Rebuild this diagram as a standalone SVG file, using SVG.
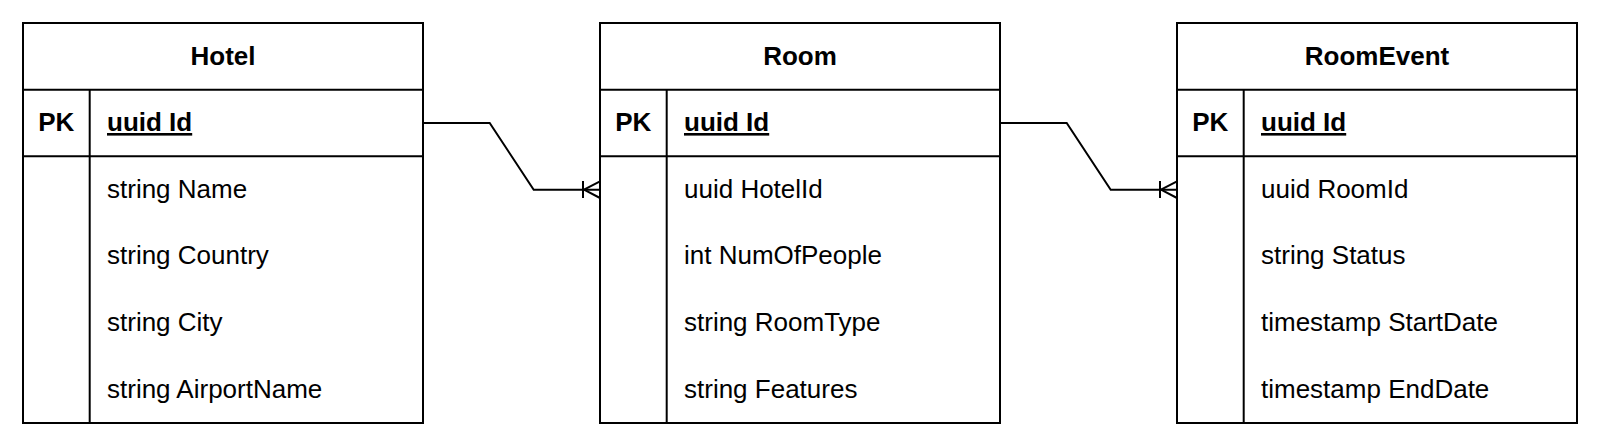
<svg xmlns="http://www.w3.org/2000/svg" width="1600" height="446" viewBox="0 0 1600 446">
<style>
.box{fill:#fff;stroke:#000;stroke-width:2}
.ln{stroke:#000;stroke-width:2;fill:none}
.t{font-family:"Liberation Sans",Arial,Helvetica,sans-serif;font-size:26px;fill:#000}
.h{font-weight:bold;text-anchor:middle}
.u{font-weight:bold;text-decoration:underline}
.pk{font-weight:bold;text-anchor:middle}
</style>
<defs>
<g id="frame">
<rect class="box" x="0" y="0" width="400" height="400"/>
<line class="ln" x1="0" y1="66.7" x2="400" y2="66.7"/>
<line class="ln" x1="0" y1="133.3" x2="400" y2="133.3"/>
<line class="ln" x1="66.7" y1="66.7" x2="66.7" y2="400"/>
</g>
</defs>
<rect width="1600" height="446" fill="#fff"/>
<g id="Hotel" transform="translate(23,23)">
<use href="#frame"/>
<text class="t h" x="200" y="41.5">Hotel</text>
<text class="t pk" x="33.3" y="108">PK</text>
<text class="t u" x="84" y="108">uuid Id</text>
<text class="t" x="84" y="174.7">string Name</text>
<text class="t" x="84" y="241.3">string Country</text>
<text class="t" x="84" y="308">string City</text>
<text class="t" x="84" y="374.7">string AirportName</text>
</g>
<g id="Room" transform="translate(600,23)">
<use href="#frame"/>
<text class="t h" x="200" y="41.5">Room</text>
<text class="t pk" x="33.3" y="108">PK</text>
<text class="t u" x="84" y="108">uuid Id</text>
<text class="t" x="84" y="174.7">uuid HotelId</text>
<text class="t" x="84" y="241.3">int NumOfPeople</text>
<text class="t" x="84" y="308">string RoomType</text>
<text class="t" x="84" y="374.7">string Features</text>
</g>
<g id="RoomEvent" transform="translate(1177,23)">
<use href="#frame"/>
<text class="t h" x="200" y="41.5">RoomEvent</text>
<text class="t pk" x="33.3" y="108">PK</text>
<text class="t u" x="84" y="108">uuid Id</text>
<text class="t" x="84" y="174.7">uuid RoomId</text>
<text class="t" x="84" y="241.3">string Status</text>
<text class="t" x="84" y="308">timestamp StartDate</text>
<text class="t" x="84" y="374.7">timestamp EndDate</text>
</g>
<g id="connectors">
<g id="Hotel-Room">
<path class="ln" d="M423,123 H489.7 L533.7,189.7 H600"/>
<path class="ln" d="M583,181 V198 M584,189.7 L600,181.3 M584,189.7 L600,198"/>
</g>
<g id="Room-RoomEvent" transform="translate(577,0)">
<path class="ln" d="M423,123 H489.7 L533.7,189.7 H600"/>
<path class="ln" d="M583,181 V198 M584,189.7 L600,181.3 M584,189.7 L600,198"/>
</g>
</g>
</svg>
